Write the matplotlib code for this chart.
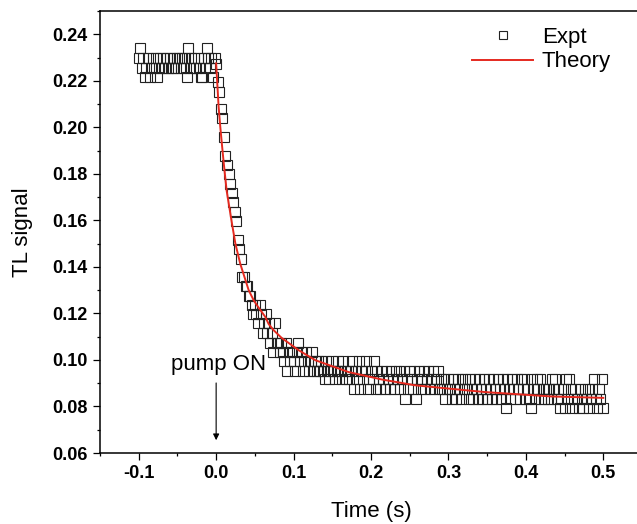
import numpy as np
import matplotlib
matplotlib.use("Agg")
import matplotlib.pyplot as plt

plt.rcParams['font.family'] = ['Liberation Sans', 'DejaVu Sans']

# experimental trace, sampled every 2 ms from -0.1 s to 0.5 s
t_start = -0.1
t_step = 0.002
expt_signal = [
    0.2298, 0.2340, 0.2257, 0.2298, 0.2217, 0.2257, 0.2298, 0.2217, 0.2257, 0.2298,
    0.2257, 0.2298, 0.2217, 0.2257, 0.2298, 0.2257, 0.2298, 0.2257, 0.2298, 0.2257,
    0.2298, 0.2257, 0.2257, 0.2298, 0.2257, 0.2298, 0.2298, 0.2257, 0.2298, 0.2257,
    0.2298, 0.2217, 0.2340, 0.2257, 0.2298, 0.2257, 0.2298, 0.2257, 0.2298, 0.2257,
    0.2217, 0.2217, 0.2298, 0.2257, 0.2340, 0.2298, 0.2257, 0.2298, 0.2217, 0.2298,
    0.2274, 0.2196, 0.2153, 0.2077, 0.2038, 0.1957, 0.1878, 0.1839, 0.1800, 0.1758,
    0.1718, 0.1677, 0.1638, 0.1597, 0.1515, 0.1476, 0.1436, 0.1357, 0.1357, 0.1317,
    0.1317, 0.1277, 0.1277, 0.1237, 0.1197, 0.1237, 0.1197, 0.1157, 0.1237, 0.1197,
    0.1114, 0.1157, 0.1197, 0.1114, 0.1157, 0.1075, 0.1114, 0.1034, 0.1157, 0.1075,
    0.1075, 0.1034, 0.1075, 0.1034, 0.0994, 0.1075, 0.0954, 0.1034, 0.0994, 0.1034,
    0.0994, 0.0954, 0.1034, 0.1075, 0.0994, 0.1034, 0.0954, 0.0994, 0.1034, 0.0994,
    0.0954, 0.0994, 0.1034, 0.0954, 0.0994, 0.0954, 0.0994, 0.0954, 0.0994, 0.0954,
    0.0916, 0.0994, 0.0954, 0.0916, 0.0954, 0.0994, 0.0954, 0.0916, 0.0954, 0.0994,
    0.0954, 0.0916, 0.0994, 0.0954, 0.0916, 0.0954, 0.0916, 0.0954, 0.0994, 0.0875,
    0.0954, 0.0916, 0.0994, 0.0875, 0.0954, 0.0916, 0.0954, 0.0994, 0.0875, 0.0916,
    0.0954, 0.0916, 0.0994, 0.0875, 0.0954, 0.0916, 0.0875, 0.0954, 0.0916, 0.0875,
    0.0954, 0.0916, 0.0875, 0.0954, 0.0916, 0.0875, 0.0954, 0.0916, 0.0954, 0.0875,
    0.0916, 0.0954, 0.0834, 0.0916, 0.0875, 0.0954, 0.0916, 0.0875, 0.0954, 0.0834,
    0.0916, 0.0954, 0.0875, 0.0916, 0.0954, 0.0875, 0.0916, 0.0954, 0.0875, 0.0916,
    0.0954, 0.0875, 0.0916, 0.0954, 0.0875, 0.0916, 0.0875, 0.0916, 0.0834, 0.0875,
    0.0916, 0.0875, 0.0834, 0.0916, 0.0875, 0.0834, 0.0916, 0.0875, 0.0834, 0.0916,
    0.0875, 0.0916, 0.0875, 0.0834, 0.0916, 0.0875, 0.0834, 0.0916, 0.0875, 0.0834,
    0.0916, 0.0875, 0.0834, 0.0916, 0.0875, 0.0834, 0.0916, 0.0875, 0.0834, 0.0916,
    0.0875, 0.0834, 0.0916, 0.0875, 0.0834, 0.0916, 0.0875, 0.0794, 0.0916, 0.0875,
    0.0834, 0.0916, 0.0875, 0.0834, 0.0916, 0.0875, 0.0834, 0.0916, 0.0875, 0.0916,
    0.0834, 0.0875, 0.0834, 0.0794, 0.0916, 0.0875, 0.0834, 0.0916, 0.0875, 0.0916,
    0.0834, 0.0875, 0.0834, 0.0875, 0.0834, 0.0875, 0.0834, 0.0916, 0.0875, 0.0916,
    0.0834, 0.0875, 0.0794, 0.0834, 0.0875, 0.0794, 0.0916, 0.0834, 0.0916, 0.0875,
    0.0794, 0.0834, 0.0875, 0.0834, 0.0794, 0.0875, 0.0834, 0.0794, 0.0875, 0.0834,
    0.0875, 0.0794, 0.0834, 0.0875, 0.0916, 0.0834, 0.0794, 0.0875, 0.0834, 0.0916,
    0.0794,
]
expt_time = t_start + t_step * np.arange(len(expt_signal))

# theory curve
theory_time = [0.0, 0.0032, 0.0054, 0.0075, 0.0097, 0.0135, 0.0204, 0.0248, 0.031,
               0.042, 0.0484, 0.0527, 0.0635, 0.0677, 0.0742, 0.0845, 0.1065, 0.128,
               0.171, 0.214, 0.257, 0.300, 0.347, 0.433, 0.500]
theory_signal = [0.2275, 0.2088, 0.2000, 0.1925, 0.1850, 0.1729, 0.1587, 0.1501, 0.1415,
                 0.1300, 0.1257, 0.1235, 0.1185, 0.1155, 0.1128, 0.1095, 0.1042, 0.0999,
                 0.0948, 0.0916, 0.0891, 0.0877, 0.0862, 0.0843, 0.0837]

W, H = 637, 524
fig = plt.figure(figsize=(W / 100, H / 100), dpi=100)
ax = fig.add_axes([100 / W, 1 - 453 / H, 542 / W, 442 / H])

ax.plot(expt_time, expt_signal, 's', ms=6.5, mfc='none', mec='#222222', mew=0.8,
        label='Expt')
ax.plot(theory_time, theory_signal, '-', color='#e5291f', lw=1.4, label='Theory')

ax.set_xlim(-0.15, 0.55)
ax.set_ylim(0.06, 0.25)
ax.set_xticks([-0.1, 0.0, 0.1, 0.2, 0.3, 0.4, 0.5])
ax.set_xticks(np.arange(-0.15, 0.56, 0.05), minor=True)
ax.set_yticks(np.arange(0.06, 0.241, 0.02))
ax.set_yticks(np.arange(0.06, 0.251, 0.01), minor=True)
ax.set_xticklabels(['-0.1', '0.0', '0.1', '0.2', '0.3', '0.4', '0.5'])
ax.set_yticklabels(['%.2f' % v for v in np.arange(0.06, 0.241, 0.02)])

ax.tick_params(which='major', direction='out', length=5, width=0.9, labelsize=13, pad=4)
ax.tick_params(which='minor', direction='out', length=2.5, width=0.9)
ax.tick_params(top=False, right=False)
for lbl in ax.get_xticklabels() + ax.get_yticklabels():
    lbl.set_fontweight('bold')
for s in ax.spines.values():
    s.set_linewidth(1.1)

ax.set_xlabel('Time (s)', fontsize=16, labelpad=13)
ax.set_ylabel('TL signal', fontsize=16, labelpad=14)

ax.annotate('', xy=(0.0, 0.0643), xytext=(0.0, 0.0913),
            arrowprops=dict(arrowstyle='-|>', lw=0.8, color='black', mutation_scale=9))
ax.text(0.003, 0.0958, 'pump ON', fontsize=16, ha='center', va='baseline')

ax.legend(loc='upper left', bbox_to_anchor=(472 / W, 1 - 27 / H),
          bbox_transform=fig.transFigure, frameon=False, fontsize=16,
          handlelength=2.75, handletextpad=0.4, borderpad=0, borderaxespad=0,
          labelspacing=0.15, markerscale=0.8)

fig.savefig('out.png', dpi=100)
